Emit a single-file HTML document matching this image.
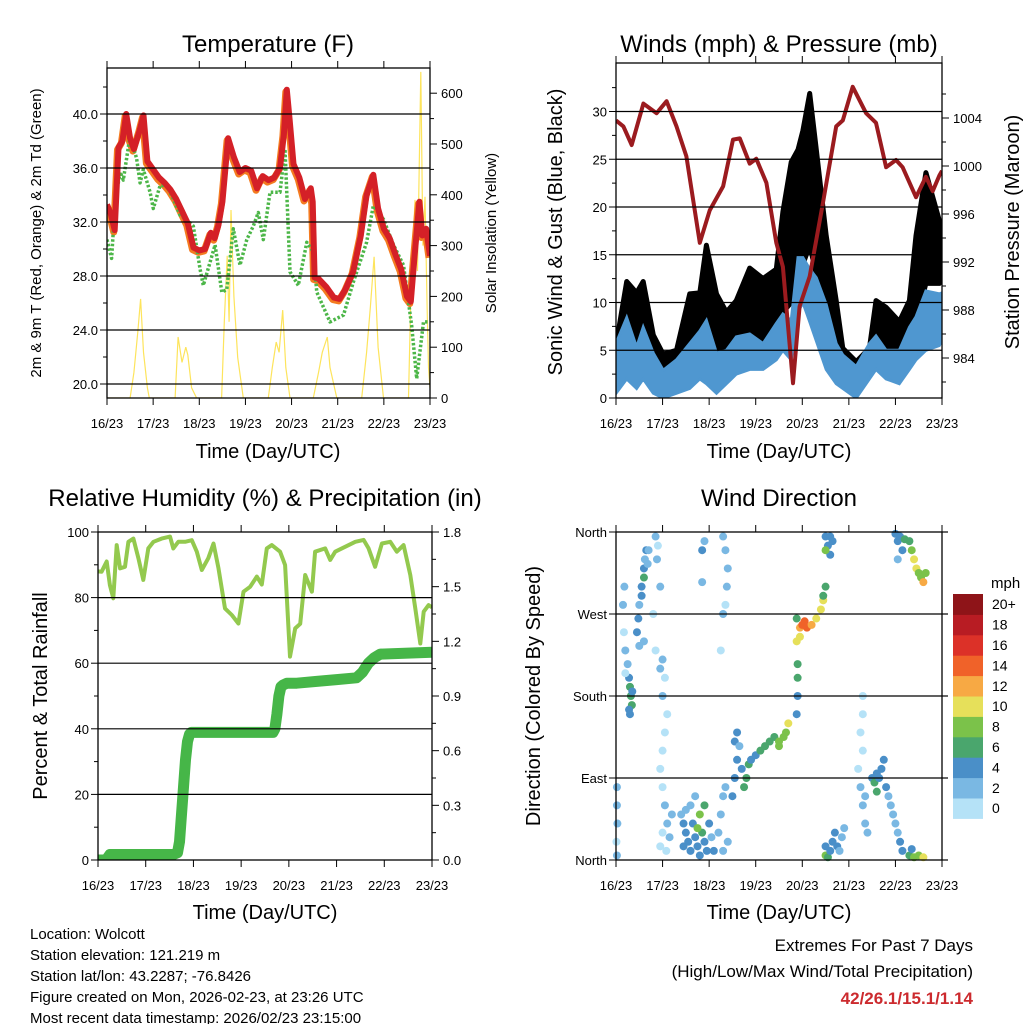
<!DOCTYPE html>
<html><head><meta charset="utf-8">
<style>
html,body{margin:0;padding:0;background:#fff;}
svg{display:block;font-family:"Liberation Sans",Arial,sans-serif;}
</style></head>
<body>
<svg id="chart" width="1024" height="1024" viewBox="0 0 1024 1024" xmlns="http://www.w3.org/2000/svg">
<defs>
<clipPath id="cT"><rect x="107" y="68" width="323" height="330"/></clipPath>
<clipPath id="cW"><rect x="616" y="63" width="326" height="335"/></clipPath>
<clipPath id="cR"><rect x="98" y="532" width="334" height="328"/></clipPath>
<clipPath id="cD"><rect x="612" y="528" width="334" height="336"/></clipPath>
</defs>
<g id="texts">
<text x="268" y="52" font-size="24" text-anchor="middle">Temperature (F)</text>
<text x="779" y="52" font-size="24" text-anchor="middle">Winds (mph) &amp; Pressure (mb)</text>
<text x="265" y="506" font-size="24" text-anchor="middle">Relative Humidity (%) &amp; Precipitation (in)</text>
<text x="779" y="506" font-size="24" text-anchor="middle">Wind Direction</text>
<text x="268" y="458" font-size="20" text-anchor="middle">Time (Day/UTC)</text>
<text x="779" y="458" font-size="20" text-anchor="middle">Time (Day/UTC)</text>
<text x="265" y="919" font-size="20" text-anchor="middle">Time (Day/UTC)</text>
<text x="779" y="919" font-size="20" text-anchor="middle">Time (Day/UTC)</text>
<text transform="translate(41,233) rotate(-90)" font-size="15" text-anchor="middle">2m &amp; 9m T (Red, Orange) &amp; 2m Td (Green)</text>
<text transform="translate(496,233) rotate(-90)" font-size="15" text-anchor="middle">Solar Insolation (Yellow)</text>
<text transform="translate(562,232) rotate(-90)" font-size="20" text-anchor="middle">Sonic Wind &amp; Gust (Blue, Black)</text>
<text transform="translate(1019,232) rotate(-90)" font-size="20" text-anchor="middle">Station Pressure (Maroon)</text>
<text transform="translate(47,696) rotate(-90)" font-size="20" text-anchor="middle">Percent &amp; Total Rainfall</text>
<text transform="translate(540,696) rotate(-90)" font-size="20" text-anchor="middle">Direction (Colored By Speed)</text>
<text x="991" y="588" font-size="15">mph</text>
<g font-size="15">
<text x="30" y="939">Location: Wolcott</text>
<text x="30" y="960">Station elevation: 121.219 m</text>
<text x="30" y="981">Station lat/lon: 43.2287; -76.8426</text>
<text x="30" y="1002">Figure created on Mon, 2026-02-23, at 23:26 UTC</text>
<text x="30" y="1023">Most recent data timestamp: 2026/02/23 23:15:00</text>
</g>
<text x="973" y="951" font-size="17" text-anchor="end">Extremes For Past 7 Days</text>
<text x="973" y="977" font-size="17" text-anchor="end">(High/Low/Max Wind/Total Precipitation)</text>
<text x="973" y="1004" font-size="17" font-weight="bold" fill="#cc2a2e" text-anchor="end">42/26.1/15.1/1.14</text>
</g>
</svg>
<script>
// ---------- data ----------
const dayLabels = ["16/23","17/23","18/23","19/23","20/23","21/23","22/23","23/23"];
const tempH = [0,2,4,6,8,10,12,14,17,19,21,24,27,30,33,36,39,42,45,48,51,54,56,58,60,63,66,69,72,75,78,81,84,87,90,92,93.5,95,97,100,103,106,107,108,110,114,118,121,124,128,132,135,138.5,141,144,147,150,153,156,158,160,162.5,164,166,168];
const tempV = [33.3,32.6,31.4,37.5,38.0,40.0,38.2,37.4,38.8,39.9,36.5,35.9,35.3,34.9,34.4,33.7,32.8,31.9,30.1,29.9,30.0,31.2,30.8,31.8,33.5,38.2,36.8,35.7,36.0,35.8,34.5,35.4,35.1,35.3,36.0,38.5,41.8,39.6,36.3,35.3,33.7,34.5,33.5,27.9,27.8,27.2,26.4,26.3,27.0,28.3,31.0,34.0,35.5,33.0,31.5,30.8,29.6,28.5,26.5,26.1,29.5,33.5,31.0,31.5,29.5];
const dewH = [0,2.4,4.2,6.8,8.5,12,15.4,17.2,18.9,22.4,24.1,27.6,31,34.5,38,41.4,44.9,48.4,50.1,56.2,59.7,62.3,65.7,69.2,72.7,76.1,78.7,81.3,84.8,90,92.6,95.2,99.5,103.9,107.3,109.1,116,123,128,135,138.5,143.8,149,154.2,158.5,161.1,164.6,168];
const dewV = [30.7,29.3,33.5,35.7,35.1,38.4,36.7,34.9,35.9,34.2,33.0,34.7,34.7,33.7,32.5,32.2,31.7,28.5,27.3,30.3,26.8,27.0,31.5,28.8,30.7,31.7,32.7,30.7,34.2,34.2,37.4,28.3,27.3,30.5,29.8,26.8,24.6,25.1,27.5,30.5,33.2,32.2,30.3,28.8,24.3,20.4,24.6,24.6];
const solarH = [0,12,14,16,17.5,19,21,22,35.4,37,39,41,42,44,46.6,59.6,61,62.5,63.5,64.5,66,68,70.9,83.9,86,88,89.5,91.4,93,95.2,107.3,110,112,114.6,116,119.5,132.5,135,137,138.9,141,143.8,156.8,158,160.2,161.5,163.2,164.3,165.4,166.5,167.2,168];
const solarV = [0,0,50,130,195,90,20,0,0,120,70,100,85,20,0,0,150,280,150,370,200,80,0,0,60,110,90,173,60,0,0,50,90,120,60,0,0,90,180,278,100,0,0,200,390,250,642,300,396,180,60,20];
const windH = [0,5.5,10.6,14,19.2,24.3,31.2,38,43.2,46.6,51.8,56.9,62,68.9,75.8,82.6,86,90.3,93.8,96.3,99.8,103.2,108.3,113.5,116.9,123.8,130.6,134,139.2,146,151.2,154.6,159.7,166.6,168];
const sustHi = [5.7,8.4,5.3,7.4,4.7,2.9,4.0,5.7,7.0,8.1,4.7,5.0,6.4,6.7,5.7,7.8,8.8,8.1,14.7,14.7,13.5,12.6,9.8,5.7,4.5,3.3,5.7,6.5,5.0,5.0,7.4,8.5,11.2,10.9,11];
const sustLo = [0.5,2,1,2,0.5,0,0.5,1,2,1.5,0.5,1.5,2.5,3,3,4,5,4,9,10,8,6,3,1.5,1,0,2,3,2,1.5,3,4,5,5.5,6];
const gustHi = [5.5,12.2,11,12.2,6.6,4.6,5,10.9,11,16,10.9,9,10.2,13.6,12.5,13.5,19.5,24.7,26,28,31.9,26,17,10.2,5.2,3.8,5.2,10.2,9.5,8,10.2,17,23.6,18.6,18];
const gustLo = [2,5,4,5,3,2,2.5,4,5,5,3.5,4,5,6,6,7,9,10,12,14,16,13,9,5,2,1.5,4,5,4,4,6,8,12,12,13];
const presH = [0,3.8,8.1,14.1,20.9,26.1,31.2,36.3,43.2,48.3,55.2,60.3,63.8,68.9,72.3,77.5,82.6,86,91.2,94.6,99.8,106.6,113.5,116.9,122,128.9,134,139.2,144.3,147.7,154.6,159.7,163.2,166.6,168];
const presV = [1003.8,1003.3,1001.75,1005.2,1004.4,1005.4,1003.3,1000.8,993.6,996.3,998.3,1002.2,1002.3,1000.2,1000.6,998.6,993.6,991.6,981.9,988.3,990.8,996.9,1003.3,1003.8,1006.6,1004.4,1003.6,999.9,1000.5,999.9,997.4,999.1,997.9,999.2,999.6];
const rhH = [0,1.8,4.4,6,7.7,9.4,11.1,13.6,15.3,17.8,20.3,22.8,25.3,27.9,32,36.2,37.9,40.4,43.8,47.2,49.7,52.2,55.5,58.1,60.6,63.9,67.3,70.6,73.2,76.5,79.9,82.4,84.9,87.4,91.6,94.1,96.6,99.2,101.7,104.2,107.6,109.2,114.3,116.8,119.3,129.4,133.6,136.1,139.4,142.8,147,150.3,153.7,157.1,159.6,162.1,163.8,166.3,168];
const rhV = [88,87.9,91,83.8,79.8,96,88.9,89.4,97,98,92,85.4,95,97,98,98.6,95,97,97,97.5,94,88.4,92,96.5,88.9,76.7,74.7,72.1,81.8,83.3,86.4,84,95,96,94,89.9,62,70.6,72,86.9,81.8,94,95,91.5,94,97,97.6,95,89.4,96.5,97,94,96,86.9,76.7,66,75.7,77.7,77];
const precipH = [0,4,6,38,40,41,42,43,44,45,46,47,88,89,90,91,92,93,95,100,110,120,130,133,136,139,142,168];
const precipV = [0,0,0.03,0.03,0.04,0.1,0.25,0.4,0.55,0.65,0.69,0.70,0.70,0.72,0.8,0.9,0.95,0.96,0.97,0.97,0.98,0.99,1.0,1.03,1.08,1.11,1.13,1.14];
// wind direction samples: day, degrees, speed(mph)
const dirDay = [0.02,0.02,0.03,0.01,0.02, 0.18,0.15,0.17,0.2,0.25,0.28,0.3,0.32,0.34,0.28,0.3,0.35,0.2, 0.45,0.48,0.5,0.55,0.6,0.62,0.65,0.6,0.68,0.7,0.55,0.6,0.5, 0.85,0.9,0.88,0.95,0.8,0.85,0.95,1.0,1.05,1.0,1.1,1.05,1.0,0.95,1.0,1.05,1.1,1.0,0.95,1.08,1.15,1.2, 1.4,1.45,1.5,1.55,1.6,1.5,1.65,1.7,1.75,1.8,1.85,1.9,1.95,1.8,1.9,1.75,2.0,2.05,2.1,1.6,1.7,1.45, 1.85,1.9,1.85,2.3,2.35,2.4,2.38,2.35,2.25,2.3, 2.2,2.25,2.3,2.35,2.3,2.4, 2.5,2.55,2.6,2.55,2.6,2.7,2.8,2.85,2.9,3.0,3.1,3.2,3.3,3.4,3.5,3.6,3.65,3.7,3.5,2.75,2.65, 3.88,3.9,3.9,3.9,3.88,3.88, 3.95,4.0,4.05,4.1,4.2,4.3,4.4,4.45,3.95,4.45, 4.5,4.55,4.6,4.65,4.6,4.5,4.5, 5.3,5.3,5.25,5.3,5.2,5.25,5.3,5.35,5.4,5.35, 4.5,4.55,4.6,4.65,4.7,4.75,4.8,4.85,4.9,4.5, 5.5,5.55,5.6,5.65,5.7,5.75,5.8,5.85,5.9,5.95,6.0,6.05,6.1,6.15,5.6, 6.3,6.4,6.5,6.6,6.35, 6.0,6.05,6.1,6.2,6.3,6.35,6.4,6.45,6.5,6.55,6.6,6.65,6.05,6.15];
const dirDeg = [80,60,40,20,5, 300,280,250,230,215,200,190,180,170,165,160,185,205, 250,265,280,300,320,330,340,310,325,340,290,240,235, 355,345,330,300,270,230,210,220,200,180,160,140,120,100,80,60,40,30,15,10,25,50, 50,40,30,20,10,55,40,25,15,5,30,20,10,50,60,35,40,25,10,60,70,15, 340,350,305,355,340,320,300,280,230,270, 30,50,70,80,10,20, 70,90,110,130,140,100,90,105,110,115,120,125,130,135,130,135,140,150,125,80,125, 160,180,200,215,240,265, 255,258,262,255,258,265,275,285,245,290, 355,345,355,350,335,340,300, 180,160,140,120,100,80,60,40,30,70, 5,3,10,20,30,15,10,25,35,15, 90,85,95,90,100,110,80,70,60,50,40,30,20,10,75, 5,3,5,3,12, 358,350,355,352,350,340,330,320,315,310,305,315,330,340];
const dirSpd = [2,2,2,1,2, 2,2,1,2,3,4,6,6,6,4,5,4,1, 4,4,3,4,4,3,4,6,2,2,4,2,2, 2,1,2,2,1,1,2,2,1,2,1,1,1,1,1,2,2,1,1,1,3,2, 3,4,4,4,4,2,4,4,4,4,6,4,4,8,6,8,4,3,4,2,2,4, 4,2,2,2,2,2,2,1,1,3, 2,2,2,3,2,2, 4,4,4,4,4,4,6,6,4,4,6,6,6,6,8,8,8,10,8,6,2, 4,4,6,6,10,6, 12,14,14,14,12,10,10,10,10,6, 4,4,4,4,4,8,6, 1,1,1,1,1,2,2,2,2,2, 8,6,4,4,4,4,2,2,2,4, 4,6,4,4,4,4,4,2,2,2,2,2,4,4,6, 6,8,8,10,4, 4,4,4,6,6,8,10,10,8,8,12,8,2,4];
const cbLabels = ["0","2","4","6","8","10","12","14","16","18","20+"];
const cbColors = ["#b5e2f7","#7ab8e3","#4a8fc8","#4aa66d","#7bc24a","#e6e05a","#f7a944","#f06229","#dc3128","#b81c23","#8e1418"];

// ---------- scales ----------
const xT = h => 107 + h/168*323;
const yT = v => 384 - (v-20)*13.5;
const yS = v => 398 - v*0.508;
const xW = h => 616 + h/168*326;
const yW = v => 398 - v*9.55;
const yP = v => 358 - (v-984)*12;
const xR = h => 98 + h/168*334;
const yR = v => 860 - v*3.28;
const yPr = v => 860 - v/1.8*328;
const xD = d => 616 + d/7*326;
const yD = g => 860 - g/360*328;

const NS = "http://www.w3.org/2000/svg";
const svg = document.getElementById('chart');
function mk(tag, attrs, parent) {
  const e = document.createElementNS(NS, tag);
  for (const k in attrs) e.setAttribute(k, attrs[k]);
  (parent || svg).appendChild(e);
  return e;
}
function pts(xs, ys, fx, fy) { return xs.map((h,i)=>fx(h).toFixed(1)+","+fy(ys[i]).toFixed(1)).join(" "); }

// ---------- axes helper ----------
function axes(name, x0, x1, y0, y1, leftTicks, leftLab, fyL, rightTicks, rightLab, fyR, leftMinor, rightMinor, gridVals) {
  const g = mk('g', {});
  
  
  gridVals.forEach(v => {
    const ln = mk('line', {x1:x0, x2:x1, y1:fyL(v), y2:fyL(v), stroke:'#000', 'stroke-width':1.2}, g);
    
    
  });
  mk('rect', {x:x0, y:y0, width:x1-x0, height:y1-y0, fill:'none', stroke:'#000', 'stroke-width':1.3}, g);
  for (let d = 0; d <= 7; d++) {
    const x = x0 + d/7*(x1-x0);
    mk('line', {x1:x, x2:x, y1:y1, y2:y1+7, stroke:'#000', 'stroke-width':1}, g);
    mk('line', {x1:x, x2:x, y1:y0, y2:y0-7, stroke:'#000', 'stroke-width':1}, g);
    const t = mk('text', {x:x, y:y1+30, 'font-size':13, 'text-anchor':'middle'}, g);
    t.textContent = dayLabels[d];
    
    
  }
  leftTicks.forEach((v,i) => {
    const y = fyL(v);
    mk('line', {x1:x0-7, x2:x0, y1:y, y2:y, stroke:'#000', 'stroke-width':1}, g);
    const t = mk('text', {x:x0-9, y:y+5, 'font-size':13, 'text-anchor':'end'}, g);
    t.textContent = leftLab[i];
    
    
  });
  leftMinor.forEach(v => mk('line', {x1:x0-4, x2:x0, y1:fyL(v), y2:fyL(v), stroke:'#000', 'stroke-width':1}, g));
  rightTicks.forEach((v,i) => {
    const y = fyR(v);
    mk('line', {x1:x1, x2:x1+7, y1:y, y2:y, stroke:'#000', 'stroke-width':1}, g);
    if (rightLab) {
      const t = mk('text', {x:x1+11, y:y+5, 'font-size':13}, g);
      t.textContent = rightLab[i];
      
      
    }
  });
  rightMinor.forEach(v => mk('line', {x1:x1, x2:x1+4, y1:fyR(v), y2:fyR(v), stroke:'#000', 'stroke-width':1}, g));
}

// ---------- Temperature panel ----------
(function(){
  const g = mk('g', {'clip-path':'url(#cT)'});
  
  
  const s = mk('polyline', {points:pts(solarH, solarV, xT, yS), fill:'none', stroke:'#fde45c', 'stroke-width':1.2}, g);
  
  
  const o = mk('polyline', {points:pts(tempH, tempV, xT, yT), fill:'none', stroke:'#f47b20', 'stroke-width':7, 'stroke-linejoin':'round', transform:'translate(-1,2)'}, g);
  
  
  const dp = mk('polyline', {points:pts(dewH, dewV, xT, yT), fill:'none', stroke:'#4cb648', 'stroke-width':3.5, 'stroke-dasharray':'2.5 2', 'stroke-linejoin':'round'}, g);
  
  
  const r = mk('polyline', {points:pts(tempH, tempV, xT, yT), fill:'none', stroke:'#d42027', 'stroke-width':6, 'stroke-linejoin':'round'}, g);
  
  
  axes('temperature', 107, 430, 68, 398,
    [20,24,28,32,36,40], ["20.0","24.0","28.0","32.0","36.0","40.0"], yT,
    [0,100,200,300,400,500,600], ["0","100","200","300","400","500","600"], yS,
    [22,26,30,34,38,42], [50,150,250,350,450,550], [20,24,28,32,36,40]);
})();

// ---------- Wind panel ----------
(function(){
  const g = mk('g', {'clip-path':'url(#cW)'});
  
  
  const band = (hi, lo) => pts(windH, hi, xW, yW) + " " + pts(windH.slice().reverse(), lo.slice().reverse(), xW, yW);
  const gb = mk('polygon', {points:band(gustHi, gustLo), fill:'#000', stroke:'#000', 'stroke-width':5, 'stroke-linejoin':'round'}, g);
  
  
  const sb = mk('polygon', {points:band(sustHi, sustLo), fill:'#4f97d0', stroke:'#4f97d0', 'stroke-width':3}, g);
  
  
  const p = mk('polyline', {points:pts(presH, presV, xW, yP), fill:'none', stroke:'#9b1b1f', 'stroke-width':4, 'stroke-linejoin':'round'}, g);
  
  
  axes('wind', 616, 942, 63, 398,
    [0,5,10,15,20,25,30], ["0","5","10","15","20","25","30"], yW,
    [984,988,992,996,1000,1004], ["984","988","992","996","1000","1004"], yP,
    [2.5,7.5,12.5,17.5,22.5,27.5,32.5], [982,986,990,994,998,1002,1006], [5,10,15,20,25,30]);
})();

// ---------- RH panel ----------
(function(){
  const g = mk('g', {'clip-path':'url(#cR)'});
  
  
  const pr = mk('polyline', {points:pts(precipH, precipV, xR, yPr), fill:'none', stroke:'#46b648', 'stroke-width':11, 'stroke-linejoin':'round', 'stroke-linecap':'round'}, g);
  
  
  const rh = mk('polyline', {points:pts(rhH, rhV, xR, yR), fill:'none', stroke:'#93c94e', 'stroke-width':4, 'stroke-linejoin':'round'}, g);
  
  
  axes('humidity', 98, 432, 532, 860,
    [0,20,40,60,80,100], ["0","20","40","60","80","100"], yR,
    [0,0.3,0.6,0.9,1.2,1.5,1.8], ["0.0","0.3","0.6","0.9","1.2","1.5","1.8"], yPr,
    [10,30,50,70,90], [0.15,0.45,0.75,1.05,1.35,1.65], [20,40,60,80]);
})();

// ---------- Wind direction panel ----------
(function(){
  const g = mk('g', {'clip-path':'url(#cD)'});
  
  
  for (let i = 0; i < dirDay.length; i++) {
    const ci = Math.max(0, Math.min(10, Math.floor(dirSpd[i]/2)));
    const c = mk('circle', {cx:xD(dirDay[i]), cy:yD(dirDeg[i]), r:4, fill:cbColors[ci]}, g);
    
    
  }
  axes('direction', 616, 942, 532, 860,
    [0,90,180,270,360], ["North","East","South","West","North"], yD,
    [], null, yD, [], [], [90,180,270]);
  [90,180,270,360,0].forEach(v => mk('line', {x1:942, x2:948, y1:yD(v), y2:yD(v), stroke:'#000', 'stroke-width':1.2}));
  const cb = mk('g', {});
  
  
  const top = 594, bh = 20.4;
  for (let i = 0; i < cbColors.length; i++) {
    const y = top + (10 - i) * bh;
    const r = mk('rect', {x:953, y:y, width:30, height:bh+0.5, fill:cbColors[i]}, cb);
    
    
    const t = mk('text', {x:992, y:y+bh/2+5, 'font-size':14}, cb);
    t.textContent = cbLabels[i];
    
    
  }
})();
</script>
</body></html>
